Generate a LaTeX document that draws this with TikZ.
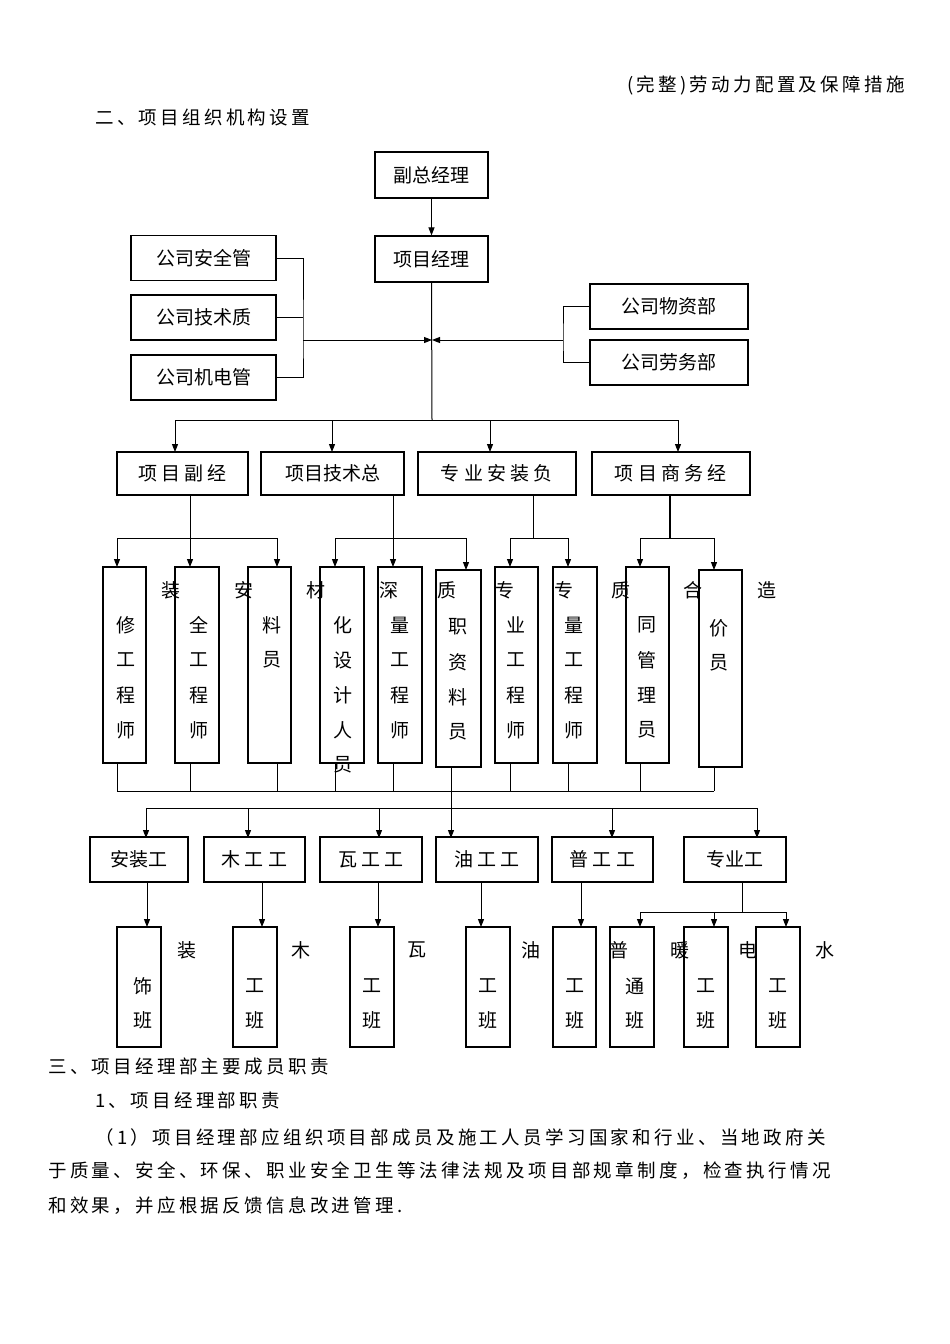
\documentclass[tikz,border=0pt]{standalone}
\usepackage{fontspec}
\setmainfont{Noto Sans CJK SC}
\newfontfamily\bodyf[LetterSpace=18]{Noto Sans CJK SC}
\usetikzlibrary{arrows.meta}
\tikzset{
  box/.style={draw,line width=1.1pt,inner sep=0pt,font=\fontsize{19}{19}\selectfont},
  ch/.style={inner sep=0pt,font=\fontsize{19}{19}\selectfont},
  ln/.style={line width=1pt},
  arr/.style={line width=1pt,-{Triangle[length=8pt,width=6pt]}},
  txt/.style={inner sep=0pt,anchor=west,font=\bodyf\fontsize{18.5}{19}\selectfont}
}
\newcommand\colbox[6]{\node[box,minimum width={(#3-#2)*1pt},minimum height={(#5-#4)*1pt}] (#1) at ({(#2+#3)/2},{(#4+#5)/2}) {};}
\newcommand\vchars[4]{\foreach \c [count=\i] in {#4} \node[ch] at (#1,{#2+#3*(\i-1)}) {\c};}
\begin{document}
\begin{tikzpicture}[x=1pt,y=-1pt]
\useasboundingbox (0,0) rectangle (950,1344);
% texts
\node[txt,anchor=east] (hd) at (905,85) {(完整)劳动力配置及保障措施};
\node[txt] (t1) at (95,117) {二、项目组织机构设置};
\node[txt] (t2) at (48,1066) {三、项目经理部主要成员职责};
\node[txt] (t3) at (95,1100) {1、项目经理部职责};
\node[txt] (p1) at (95,1137) {（1）项目经理部应组织项目部成员及施工人员学习国家和行业、当地政府关};
\node[txt] (p2) at (48,1171) {于质量、安全、环保、职业安全卫生等法律法规及项目部规章制度，检查执行情况};
\node[txt] (p3) at (48,1206) {和效果，并应根据反馈信息改进管理.};
% top
\node[box,minimum width=113pt,minimum height=46pt] (fz) at (431.5,175) {副总经理};
\node[box,minimum width=113pt,minimum height=46pt] (pm) at (431.5,259) {项目经理};
\draw[arr] (fz) -- (pm);
\node[box,minimum width=145pt,minimum height=45pt] (s1) at (203.5,258) {公司安全管};
\node[box,minimum width=145pt,minimum height=45pt] (s2) at (203.5,317.5) {公司技术质};
\node[box,minimum width=145pt,minimum height=45pt] (s3) at (203.5,377.5) {公司机电管};
\node[box,minimum width=158pt,minimum height=45pt] (m1) at (669,306.5) {公司物资部};
\node[box,minimum width=158pt,minimum height=45pt] (m2) at (669,362.5) {公司劳务部};
\coordinate (hub) at (432,340);
\coordinate (lb) at (303,340);
\coordinate (rb) at (563,340);
\draw[ln] (s1.east) -| (lb) |- (s3.east);
\draw[ln] (s2.east) -- (s2.east -| lb);
\draw[ln] (m1.west) -| (rb) |- (m2.west);
\draw[arr] (lb) -- (hub);
\draw[arr] (rb) -- (hub);
\coordinate (bus1) at (432,420);
\draw[ln] (pm.south) -- (bus1);
\node[box,minimum width=131pt,minimum height=43pt] (r1) at (182.5,473.5) {项 目 副 经};
\node[box,minimum width=143pt,minimum height=43pt] (r2) at (332.5,473.5) {项目技术总};
\node[box,minimum width=158pt,minimum height=43pt] (r3) at (497,473.5) {专 业 安 装 负};
\node[box,minimum width=158pt,minimum height=43pt] (r4) at (671,473.5) {项 目 商 务 经};
\draw[ln] (175,420) -- (678,420);
\foreach \x/\n in {175/r1,332/r2,490/r3,678/r4} \draw[arr] (\x,420) -- (\x,452);
% column boxes
\colbox{c1}{103}{146}{567}{763}{}
\colbox{c2}{175}{219}{567}{763}{}
\colbox{c3}{248}{291}{567}{763}{}
\colbox{c4}{320}{364}{567}{763}{}
\colbox{c5}{378}{422}{567}{763}{}
\colbox{c6}{436}{481}{570}{767}{}
\colbox{c7}{495}{538}{567}{763}{}
\colbox{c8}{553}{597}{567}{763}{}
\colbox{c9}{626}{669}{567}{763}{}
\colbox{c10}{699}{742}{570}{767}{}
\draw[ln] (190,495) -- (190,538); \draw[ln] (117,538) -- (277,538);
\draw[ln] (393,495) -- (393,538); \draw[ln] (335,538) -- (466,538);
\draw[ln] (533,495) -- (533,538); \draw[ln] (510,538) -- (568,538);
\draw[line width=2pt] (670,495) -- (670,538); \draw[ln] (640,538) -- (714,538);
\foreach \x in {117,190,277,335,393,510,568,640} \draw[arr] (\x,538) -- (\x,567);
\foreach \x in {466,714} \draw[arr] (\x,538) -- (\x,570);
% labels
\foreach \x/\c in {171/装,244/安,316/材,389/深,447/质,505/专,564/专,621/质,693/合,767/造} \node[ch] at (\x,590) {\c};
\vchars{126}{625}{35}{修,工,程,师}
\vchars{199}{625}{35}{全,工,程,师}
\vchars{272}{625}{35}{料,员}
\vchars{343}{625}{35}{化,设,计,人,员}
\vchars{400}{625}{35}{量,工,程,师}
\vchars{458}{627}{35}{职,资,料,员}
\vchars{516}{625}{35}{业,工,程,师}
\vchars{574}{625}{35}{量,工,程,师}
\vchars{647}{625}{35}{同,管,理,员}
\vchars{719}{628}{35}{价,员}
% bus 2
\foreach \x in {117,190,277,335,393,510,568,640} \draw[ln] (\x,763) -- (\x,791);
\draw[ln] (714,767) -- (714,791);
\draw[ln] (117,791) -- (714,791);
\draw[ln] (146,808) -- (757,808);
\draw[arr] (451,767) -- (451,838);
\foreach \x in {146,248,379,612,757} \draw[arr] (\x,808) -- (\x,838);
% bottom row
\node[box,minimum width=98pt,minimum height=45pt] (b1) at (139,859.5) {安装工};
\node[box,minimum width=101pt,minimum height=45pt] (b2) at (254.5,859.5) {木 工 工};
\node[box,minimum width=102pt,minimum height=45pt] (b3) at (371,859.5) {瓦 工 工};
\node[box,minimum width=102pt,minimum height=45pt] (b4) at (487,859.5) {油 工 工};
\node[box,minimum width=101pt,minimum height=45pt] (b5) at (602.5,859.5) {普 工 工};
\node[box,minimum width=102pt,minimum height=45pt] (b6) at (735,859.5) {专业工};
\colbox{d1}{117}{161}{927}{1047}{}
\colbox{d2}{233}{277}{927}{1047}{}
\colbox{d3}{350}{394}{927}{1047}{}
\colbox{d4}{466}{510}{927}{1047}{}
\colbox{d5}{553}{596}{927}{1047}{}
\colbox{d6}{610}{654}{927}{1047}{}
\colbox{d7}{684}{728}{927}{1047}{}
\colbox{d8}{756}{800}{927}{1047}{}
\foreach \x in {147,262,378,481,581} \draw[arr] (\x,882) -- (\x,927);
\draw[ln] (742,882) -- (742,912); \draw[ln] (640,912) -- (786,912);
\foreach \x in {640,714,786} \draw[arr] (\x,912) -- (\x,927);
\foreach \x/\c in {187/装,301/木,417/瓦,531/油,619/普,680/暖,748/电,825/水} \node[ch] at (\x,950) {\c};
\vchars{143}{986}{34}{饰,班}
\vchars{255}{986}{34}{工,班}
\vchars{372}{986}{34}{工,班}
\vchars{488}{986}{34}{工,班}
\vchars{575}{986}{34}{工,班}
\vchars{635}{986}{34}{通,班}
\vchars{706}{986}{34}{工,班}
\vchars{778}{986}{34}{工,班}
\end{tikzpicture}
\end{document}
